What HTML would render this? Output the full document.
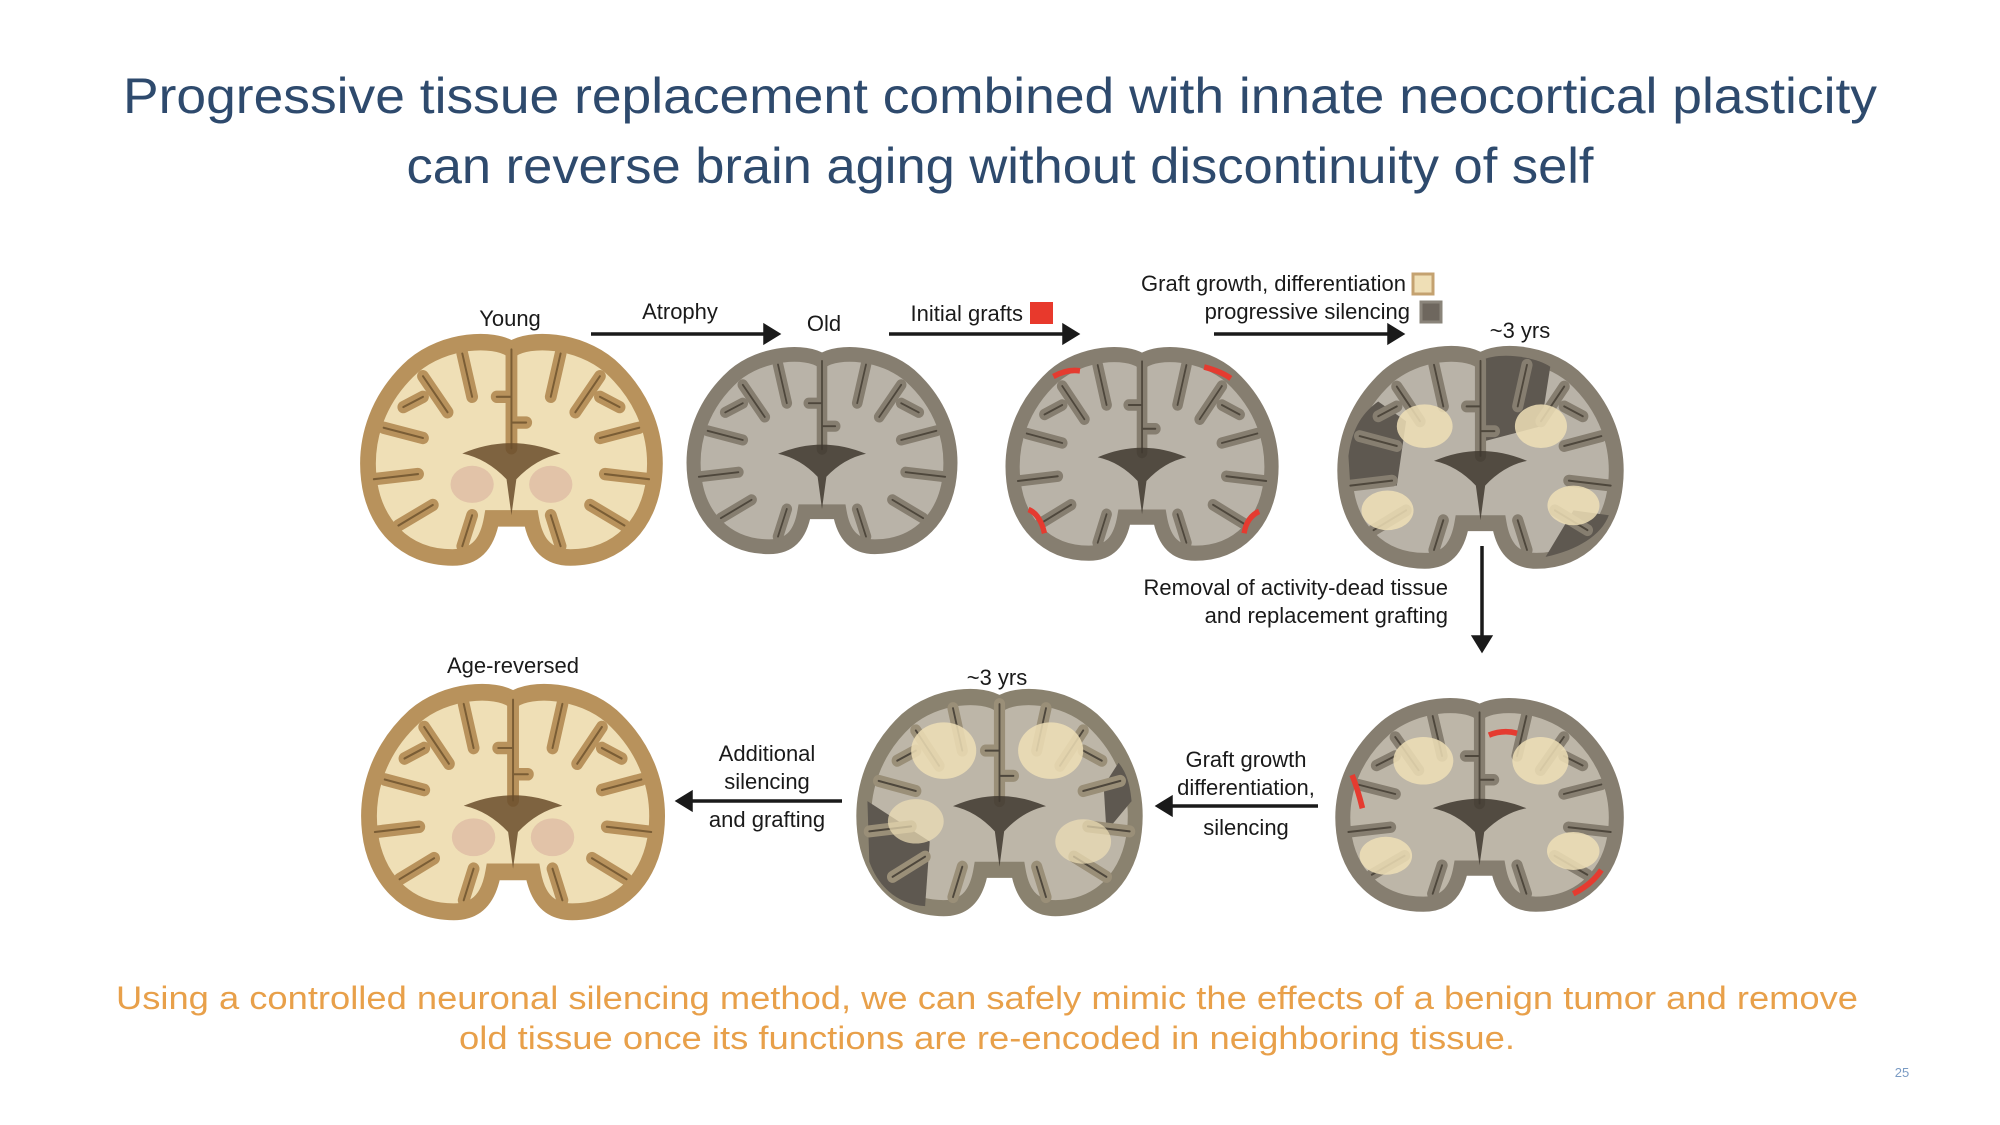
<!DOCTYPE html>
<html><head><meta charset="utf-8"><style>
html,body{margin:0;padding:0;background:#fff;}
svg{display:block;font-family:"Liberation Sans",Arial,sans-serif;}
</style></head><body>
<svg width="2000" height="1125" viewBox="0 0 2000 1125" xmlns="http://www.w3.org/2000/svg">
<defs>
<path id="bo" d="M150,14 C132,2 82,4 50,30 C15,60 0,100 5,140 C10,182 40,216 90,216 C116,216 126,200 130,178 L170,178 C174,200 184,216 210,216 C260,216 290,182 295,140 C300,100 285,60 250,30 C218,4 168,2 150,14 Z"/>
<g id="sulci" fill="none" stroke-linecap="round">
<path d="M150,14 L150,110 M150,60 L135,60 M150,85 L165,85"/>
<path d="M60,40 L85,75 M100,18 L110,60 M200,18 L190,60 M240,40 L215,75"/>
<path d="M20,90 L60,100 M10,140 L55,135 M35,185 L70,165 M280,90 L240,100 M290,140 L245,135 M265,185 L230,165"/>
<path d="M100,205 L110,175 M200,205 L190,175 M60,60 L40,70 M240,60 L260,70"/>
</g>
<g id="inner">
<path d="M100,115 Q150,95 200,115 Q175,120 155,140 L150,175 L145,140 Q125,120 100,115 Z" fill-opacity="0.85"/>
</g>
</defs>

<!-- Title -->
<text x="1000" y="113" text-anchor="middle" font-size="50" fill="#2e4a6d" textLength="1754" lengthAdjust="spacingAndGlyphs">Progressive tissue replacement combined with innate neocortical plasticity</text>
<text x="1000" y="183" text-anchor="middle" font-size="50" fill="#2e4a6d" textLength="1187" lengthAdjust="spacingAndGlyphs">can reverse brain aging without discontinuity of self</text>

<!-- Brains -->
<!-- Young -->
<g transform="translate(364,335) scale(0.983,1.03)">
<use href="#bo" fill="#efdfb6" stroke="#b8925c" stroke-width="16"/>
<use href="#sulci" stroke="#b8925c" stroke-width="12"/>
<use href="#sulci" stroke="#7a5d35" stroke-width="2"/>
<use href="#inner" fill="#6a4e2c"/>
<ellipse cx="110" cy="145" rx="22" ry="18" fill="#e2c3a8"/><ellipse cx="190" cy="145" rx="22" ry="18" fill="#e2c3a8"/>
</g>
<!-- Old -->
<g transform="translate(690,348) scale(0.88,0.92)">
<use href="#bo" fill="#b9b3a8" stroke="#867e70" stroke-width="16"/>
<use href="#sulci" stroke="#867e70" stroke-width="12"/>
<use href="#sulci" stroke="#4e473c" stroke-width="2"/>
<use href="#inner" fill="#3f382f"/>
</g>
<!-- Initial grafts -->
<g transform="translate(1009,348) scale(0.887,0.95)">
<use href="#bo" fill="#b9b3a8" stroke="#867e70" stroke-width="16"/>
<use href="#sulci" stroke="#867e70" stroke-width="12"/>
<use href="#sulci" stroke="#4e473c" stroke-width="2"/>
<use href="#inner" fill="#3f382f"/>
<path d="M50,30 Q65,22 80,24" stroke="#e53b30" stroke-width="6" fill="none"/>
<path d="M220,20 Q240,25 250,32" stroke="#e53b30" stroke-width="6" fill="none"/>
<path d="M22,170 Q35,175 40,195" stroke="#e53b30" stroke-width="6" fill="none"/>
<path d="M265,195 Q268,178 282,172" stroke="#e53b30" stroke-width="6" fill="none"/>
</g>
<!-- 3 yrs top -->
<g transform="translate(1341,347) scale(0.93,0.99)">
<use href="#bo" fill="#b9b3a8" stroke="#867e70" stroke-width="16"/>
<path d="M150,14 C170,4 210,10 225,20 L215,80 L155,95 Z" fill="#5e5850"/>
<path d="M8,110 C12,80 25,65 40,55 L70,75 L60,140 L10,140 Z" fill="#5e5850"/>
<path d="M220,212 C255,205 280,190 288,170 L250,165 Z" fill="#5e5850"/>
<use href="#sulci" stroke="#867e70" stroke-width="12"/>
<use href="#sulci" stroke="#4e473c" stroke-width="2"/>
<ellipse cx="90" cy="80" rx="30" ry="22" fill="#efdfb6" opacity="0.85"/>
<ellipse cx="215" cy="80" rx="28" ry="22" fill="#efdfb6" opacity="0.85"/>
<ellipse cx="50" cy="165" rx="28" ry="20" fill="#efdfb6" opacity="0.85"/>
<ellipse cx="250" cy="160" rx="28" ry="20" fill="#efdfb6" opacity="0.85"/>
<use href="#inner" fill="#3f382f"/>
</g>
<!-- Age-reversed -->
<g transform="translate(365,685) scale(0.987,1.05)">
<use href="#bo" fill="#efdfb6" stroke="#b8925c" stroke-width="16"/>
<use href="#sulci" stroke="#b8925c" stroke-width="12"/>
<use href="#sulci" stroke="#7a5d35" stroke-width="2"/>
<use href="#inner" fill="#6a4e2c"/>
<ellipse cx="110" cy="145" rx="22" ry="18" fill="#e2c3a8"/><ellipse cx="190" cy="145" rx="22" ry="18" fill="#e2c3a8"/>
</g>
<!-- 3 yrs bottom -->
<g transform="translate(860,690) scale(0.93,1.01)">
<use href="#bo" fill="#bdb6a8" stroke="#8a826f" stroke-width="16"/>
<path d="M8,110 L10,170 C20,195 40,212 70,214 L75,150 Z" fill="#5e5850"/>
<path d="M292,110 C290,90 285,80 278,72 L262,95 L265,140 Z" fill="#5e5850"/>
<use href="#sulci" stroke="#9a8f78" stroke-width="12"/>
<use href="#sulci" stroke="#4e473c" stroke-width="2"/>
<ellipse cx="90" cy="60" rx="35" ry="28" fill="#efdfb6" opacity="0.85"/>
<ellipse cx="205" cy="60" rx="35" ry="28" fill="#efdfb6" opacity="0.85"/>
<ellipse cx="60" cy="130" rx="30" ry="22" fill="#efdfb6" opacity="0.7"/>
<ellipse cx="240" cy="150" rx="30" ry="22" fill="#efdfb6" opacity="0.7"/>
<use href="#inner" fill="#3f382f"/>
</g>
<!-- bottom right -->
<g transform="translate(1339,699) scale(0.937,0.95)">
<use href="#bo" fill="#bdb6a8" stroke="#867e70" stroke-width="16"/>
<use href="#sulci" stroke="#867e70" stroke-width="12"/>
<use href="#sulci" stroke="#4e473c" stroke-width="2"/>
<ellipse cx="90" cy="65" rx="32" ry="25" fill="#efdfb6" opacity="0.85"/>
<ellipse cx="215" cy="65" rx="30" ry="25" fill="#efdfb6" opacity="0.85"/>
<ellipse cx="50" cy="165" rx="28" ry="20" fill="#efdfb6" opacity="0.85"/>
<ellipse cx="250" cy="160" rx="28" ry="20" fill="#efdfb6" opacity="0.85"/>
<use href="#inner" fill="#3f382f"/>
<path d="M160,38 Q175,32 190,36" stroke="#e53b30" stroke-width="6" fill="none"/>
<path d="M14,80 Q20,95 25,115" stroke="#e53b30" stroke-width="6" fill="none"/>
<path d="M250,205 Q270,195 280,180" stroke="#e53b30" stroke-width="6" fill="none"/>
</g>

<!-- labels -->
<g font-size="22" fill="#1a1a1a">
<text x="510" y="326" text-anchor="middle">Young</text>
<text x="680" y="319" text-anchor="middle">Atrophy</text>
<text x="824" y="331" text-anchor="middle">Old</text>
<text x="1023" y="321" text-anchor="end">Initial grafts</text>
<text x="1406" y="291" text-anchor="end">Graft growth, differentiation</text>
<text x="1410" y="319" text-anchor="end">progressive silencing</text>
<text x="1520" y="338" text-anchor="middle">~3 yrs</text>
<text x="1448" y="595" text-anchor="end">Removal of activity-dead tissue</text>
<text x="1448" y="623" text-anchor="end">and replacement grafting</text>
<text x="513" y="673" text-anchor="middle">Age-reversed</text>
<text x="997" y="685" text-anchor="middle">~3 yrs</text>
<text x="767" y="761" text-anchor="middle">Additional</text>
<text x="767" y="789" text-anchor="middle">silencing</text>
<text x="767" y="827" text-anchor="middle">and grafting</text>
<text x="1246" y="767" text-anchor="middle">Graft growth</text>
<text x="1246" y="795" text-anchor="middle">differentiation,</text>
<text x="1246" y="835" text-anchor="middle">silencing</text>
</g>
<rect x="1030" y="302" width="23" height="22" fill="#e8392c"/>
<rect x="1413" y="274" width="20" height="20" fill="#efdfb6" stroke="#c4a270" stroke-width="3"/>
<rect x="1421" y="302" width="20" height="20" fill="#6e675e" stroke="#8a847a" stroke-width="3"/>

<!-- arrows -->
<g stroke="#1a1a1a" stroke-width="3.5" fill="#1a1a1a">
<line x1="591" y1="334" x2="768" y2="334"/><path d="M778,334 L765,326 L765,342 Z"/>
<line x1="889" y1="334" x2="1067" y2="334"/><path d="M1077,334 L1064,326 L1064,342 Z"/>
<line x1="1214" y1="334" x2="1392" y2="334"/><path d="M1402,334 L1389,326 L1389,342 Z"/>
<line x1="1482" y1="546" x2="1482" y2="640"/><path d="M1482,650 L1474,637 L1490,637 Z"/>
<line x1="842" y1="801" x2="688" y2="801"/><path d="M678,801 L691,793 L691,809 Z"/>
<line x1="1318" y1="806" x2="1168" y2="806"/><path d="M1158,806 L1171,798 L1171,814 Z"/>
</g>

<!-- bottom text -->
<text x="987" y="1009" text-anchor="middle" font-size="32" fill="#e8a04a" textLength="1742" lengthAdjust="spacingAndGlyphs">Using a controlled neuronal silencing method, we can safely mimic the effects of a benign tumor and remove</text>
<text x="987" y="1049" text-anchor="middle" font-size="32" fill="#e8a04a" textLength="1056" lengthAdjust="spacingAndGlyphs">old tissue once its functions are re-encoded in neighboring tissue.</text>
<text x="1902" y="1077" text-anchor="middle" font-size="13" fill="#7a9bc4">25</text>
</svg>
</body></html>
